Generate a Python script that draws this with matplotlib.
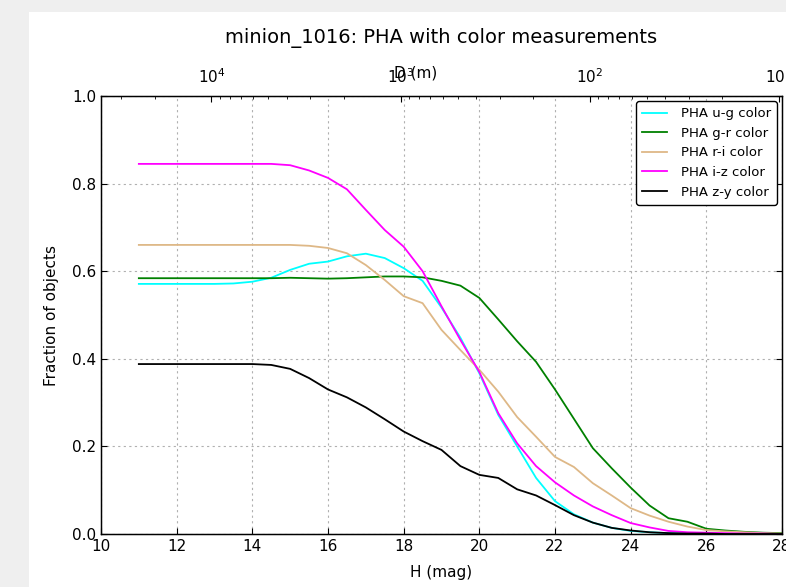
import numpy as np
import matplotlib
matplotlib.use('Agg')
import matplotlib.pyplot as plt
from matplotlib.patches import Rectangle

# H magnitude bins
H = [11, 11.5, 12, 12.5, 13, 13.5, 14, 14.5, 15, 15.5, 16, 16.5, 17, 17.5,
     18, 18.5, 19, 19.5, 20, 20.5, 21, 21.5, 22, 22.5, 23, 23.5, 24, 24.5,
     25, 25.5, 26, 26.5, 27, 27.5, 28]

# fraction of objects with each color measurement
frac_ug = [0.571, 0.571, 0.571, 0.571, 0.571, 0.572, 0.576, 0.585, 0.603,
           0.617, 0.622, 0.634, 0.640, 0.630, 0.607, 0.578, 0.517, 0.448,
           0.367, 0.272, 0.200, 0.128, 0.075, 0.045, 0.026, 0.014, 0.007,
           0.004, 0.002, 0.001, 0.001, 0.0, 0.0, 0.0, 0.0]
frac_gr = [0.584, 0.584, 0.584, 0.584, 0.584, 0.584, 0.584, 0.584, 0.585,
           0.584, 0.583, 0.584, 0.586, 0.588, 0.588, 0.586, 0.578, 0.567,
           0.539, 0.490, 0.440, 0.393, 0.330, 0.263, 0.196, 0.150, 0.106,
           0.065, 0.036, 0.028, 0.012, 0.008, 0.005, 0.003, 0.002]
frac_ri = [0.660, 0.660, 0.660, 0.660, 0.660, 0.660, 0.660, 0.660, 0.660,
           0.658, 0.653, 0.641, 0.614, 0.580, 0.543, 0.527, 0.466, 0.420,
           0.375, 0.325, 0.267, 0.222, 0.176, 0.153, 0.116, 0.088, 0.059,
           0.042, 0.028, 0.017, 0.009, 0.006, 0.004, 0.002, 0.001]
frac_iz = [0.845, 0.845, 0.845, 0.845, 0.845, 0.845, 0.845, 0.845, 0.842,
           0.830, 0.813, 0.787, 0.740, 0.694, 0.656, 0.600, 0.520, 0.443,
           0.370, 0.276, 0.207, 0.155, 0.118, 0.088, 0.063, 0.043, 0.025,
           0.015, 0.007, 0.004, 0.003, 0.002, 0.001, 0.001, 0.0]
frac_zy = [0.388, 0.388, 0.388, 0.388, 0.388, 0.388, 0.388, 0.386, 0.377,
           0.356, 0.330, 0.312, 0.289, 0.262, 0.234, 0.212, 0.192, 0.155,
           0.135, 0.128, 0.102, 0.088, 0.066, 0.043, 0.026, 0.014, 0.008,
           0.004, 0.002, 0.001, 0.001, 0.0, 0.0, 0.0, 0.0]

labels = ['PHA u-g color', 'PHA g-r color', 'PHA r-i color',
          'PHA i-z color', 'PHA z-y color']
colors = ['cyan', 'green', 'burlywood', 'magenta', 'black']

# diameter (m) from H, assumed albedo
albedo = 0.12


def h_to_d(h):
    return 1329.0 / np.sqrt(albedo) * 10 ** (-np.asarray(h) / 5.0) * 1000.0


plt.rcParams['xtick.direction'] = 'in'
plt.rcParams['ytick.direction'] = 'in'
plt.rcParams['xtick.major.size'] = 4
plt.rcParams['ytick.major.size'] = 4
plt.rcParams['xtick.minor.size'] = 2

fig = plt.figure(figsize=(7.86, 5.87), dpi=100, facecolor='#efefef')
# white canvas on the grey backdrop
fig.patches.append(Rectangle((29 / 786, 0), 1 - 29 / 786, 1 - 12 / 587,
                             transform=fig.transFigure, facecolor='white',
                             edgecolor='none', zorder=-10))

ax = fig.add_axes([101 / 786, 53 / 587, 681 / 786, 438 / 587])
series = [frac_ug, frac_gr, frac_ri, frac_iz, frac_zy]
for vals, lab, col in zip(series, labels, colors):
    ax.plot(H, vals, color=col, lw=1.3, label=lab)

ax.set_xlim(10, 28)
ax.set_ylim(0, 1.0)
ax.set_xticks(np.arange(10, 29, 2))
ax.set_yticks(np.arange(0, 1.01, 0.2))
ax.tick_params(labelsize=11, right=True)
ax.grid(True, color='#b0b0b0', linestyle=(0, (2, 3)), lw=0.8)
ax.set_xlabel('H (mag)', fontsize=11, labelpad=8)
ax.set_ylabel('Fraction of objects', fontsize=11, labelpad=9)
for sp in ax.spines.values():
    sp.set_linewidth(1.0)

leg = ax.legend(loc='upper right', fontsize=9.5, fancybox=True,
                framealpha=1, edgecolor='black', handlelength=1.9,
                handletextpad=1.0, borderpad=0.45, labelspacing=0.5,
                borderaxespad=0.4)
leg.get_frame().set_linewidth(1.0)

# top axis with diameter
ax2 = ax.twiny()
ax2.set_xscale('log')
ax2.set_xlim(h_to_d(10), h_to_d(28))
ax2.tick_params(labelsize=11, which='both', direction='in')
ax2.tick_params(axis='x', pad=7)
ax2.set_xlabel('D (m)', fontsize=11)
ax2.xaxis.set_label_coords(0.462, 1.043)

ax.set_title('minion_1016: PHA with color measurements', fontsize=14, pad=38)

fig.savefig('out.png', dpi=100, facecolor=fig.get_facecolor())
